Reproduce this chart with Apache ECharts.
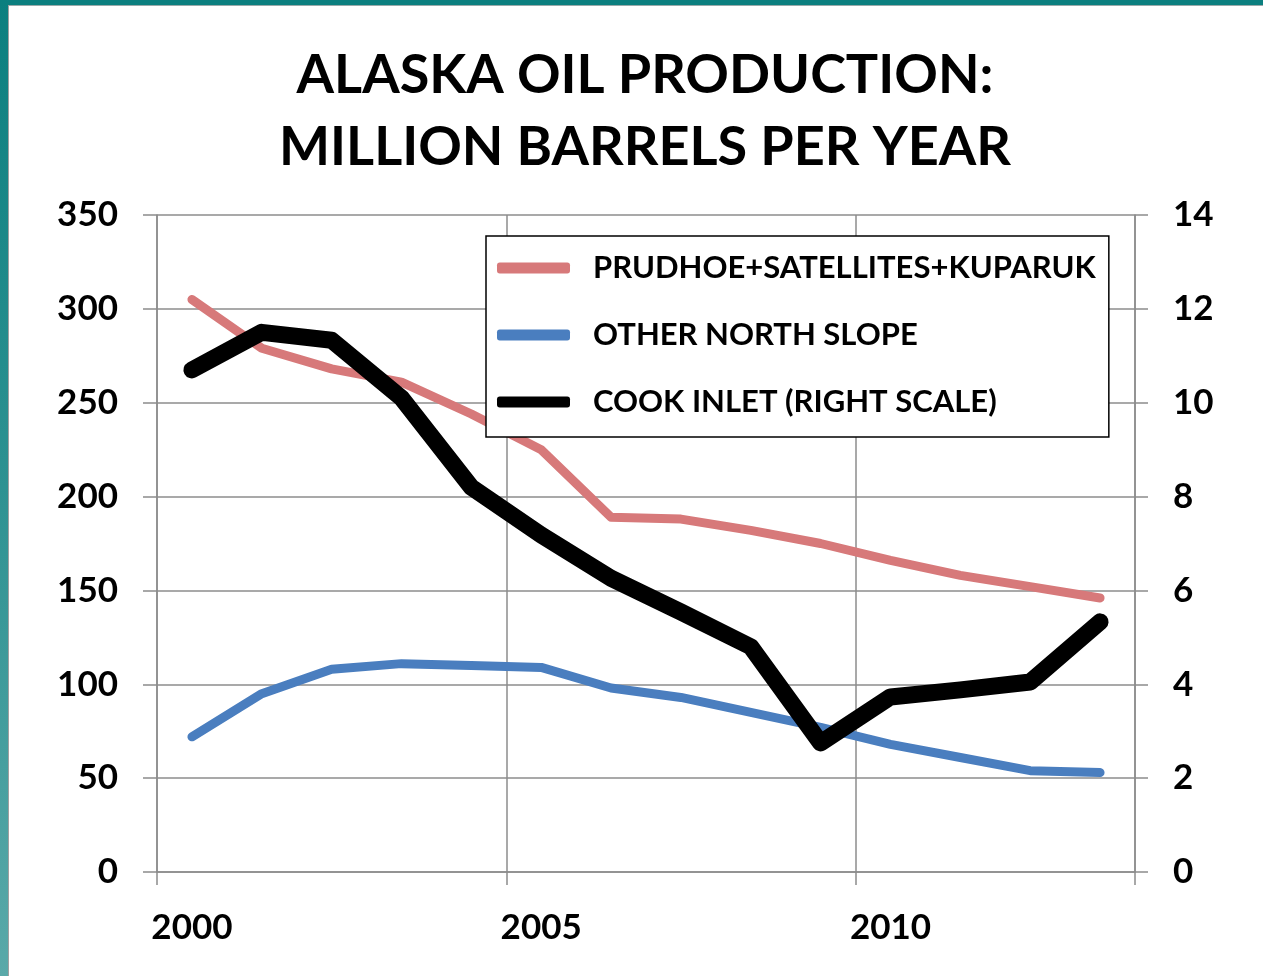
<!DOCTYPE html>
<html>
<head>
<meta charset="utf-8">
<script src="https://cdn.jsdelivr.net/npm/echarts@6/dist/echarts.min.js"></script>
<style>
  html, body { margin: 0; padding: 0; background: #ffffff; }
  #wrap { position: relative; width: 1263px; height: 976px; overflow: hidden; }
  #chart { position: absolute; left: 0; top: 0; width: 1263px; height: 976px; }
  #bTop { position: absolute; left: 0; top: 0; width: 1263px; height: 5px; background: #0b7f7f; }
  #bTopLine { position: absolute; left: 9px; top: 5px; width: 1254px; height: 1px; background: #9aa; }
  #bLeft { position: absolute; left: 0; top: 0; width: 8px; height: 976px; background: linear-gradient(#0b7f7f, #2e9292 50%, #5aa9a9); }
  #bLeftLine { position: absolute; left: 8px; top: 5px; width: 1px; height: 971px; background: #a0a0a0; }
</style>
</head>
<body>
<div id="wrap">
  <div id="chart"></div>
  <div id="bTop"></div>
  <div id="bTopLine"></div>
  <div id="bLeft"></div>
  <div id="bLeftLine"></div>
</div>
<script>
const years = ['2000','2001','2002','2003','2004','2005','2006','2007','2008','2009','2010','2011','2012','2013'];
const prudhoe = [305, 279, 268, 261, 244, 225, 189, 188, 182, 175, 166, 158, 152, 146];
const otherNorthSlope = [72, 95, 108, 111, 110, 109, 98, 93, 85, 77, 68, 61, 54, 53];
const cookInlet = [10.7, 11.5, 11.33, 10.1, 8.2, 7.18, 6.26, 5.54, 4.8, 2.75, 3.73, 3.88, 4.05, 5.33];
const leftTicks = [0, 50, 100, 150, 200, 250, 300, 350];
const rightTicks = [0, 2, 4, 6, 8, 10, 12, 14];
const seriesNames = ['PRUDHOE+SATELLITES+KUPARUK', 'OTHER NORTH SLOPE', 'COOK INLET (RIGHT SCALE)'];
const titleLines = ['ALASKA OIL PRODUCTION:', 'MILLION BARRELS PER YEAR'];

const FONT = 'Lato, "Open Sans", sans-serif';
const gridColor = '#8c8c8c';
const labelStyle = { color: '#000', fontFamily: FONT, fontWeight: 'bold', fontSize: 35 };

const chart = echarts.init(document.getElementById('chart'), null, { renderer: 'canvas' });
chart.setOption({
  backgroundColor: '#ffffff',
  animation: false,
  graphic: [
    { type: 'text', x: 645, y: 76, style: { text: titleLines[0], fill: '#000', font: 'bold 54px ' + FONT, textAlign: 'center', textVerticalAlign: 'middle' } },
    { type: 'text', x: 645, y: 148, style: { text: titleLines[1], fill: '#000', font: 'bold 54px ' + FONT, textAlign: 'center', textVerticalAlign: 'middle' } }
  ],
  grid: { left: 157, right: 128, top: 215, bottom: 104, containLabel: false },
  legend: {
    orient: 'vertical',
    left: 486, top: 236,
    padding: [14, 13, 17, 11],
    itemGap: 31,
    itemWidth: 73, itemHeight: 11,
    borderColor: '#000', borderWidth: 1.5,
    backgroundColor: '#fff',
    textStyle: { color: '#000', fontFamily: FONT, fontWeight: 'bold', fontSize: 31, lineHeight: 36, padding: [0, 0, 0, 18] },
    data: seriesNames.map(n => ({ name: n, icon: 'roundRect' }))
  },
  xAxis: {
    type: 'category',
    data: years,
    boundaryGap: true,
    axisLine: { show: true, lineStyle: { color: gridColor, width: 1.5 } },
    axisTick: { show: true, interval: 4, length: 13, lineStyle: { color: gridColor, width: 1.5 } },
    axisLabel: Object.assign({ interval: 4, margin: 38 }, labelStyle),
    splitLine: { show: true, interval: 4, lineStyle: { color: gridColor, width: 1.5 } }
  },
  yAxis: [
    {
      type: 'value', min: leftTicks[0], max: leftTicks[leftTicks.length - 1], interval: 50,
      position: 'left',
      axisLine: { show: true, lineStyle: { color: gridColor, width: 1.5 } },
      axisTick: { show: true, length: 14, lineStyle: { color: gridColor, width: 1.5 } },
      axisLabel: Object.assign({ margin: 39 }, labelStyle),
      splitLine: { show: true, lineStyle: { color: gridColor, width: 1.5 } }
    },
    {
      type: 'value', min: rightTicks[0], max: rightTicks[rightTicks.length - 1], interval: 2,
      position: 'right',
      axisLine: { show: true, lineStyle: { color: gridColor, width: 1.5 } },
      axisTick: { show: true, length: 13, lineStyle: { color: gridColor, width: 1.5 } },
      axisLabel: Object.assign({ margin: 38 }, labelStyle),
      splitLine: { show: false }
    }
  ],
  series: [
    {
      name: seriesNames[0], type: 'line', data: prudhoe, yAxisIndex: 0,
      symbol: 'none', color: '#d7797a',
      lineStyle: { width: 9, color: '#d7797a', cap: 'round', join: 'round' }
    },
    {
      name: seriesNames[1], type: 'line', data: otherNorthSlope, yAxisIndex: 0,
      symbol: 'none', color: '#4a7ebf',
      lineStyle: { width: 9, color: '#4a7ebf', cap: 'round', join: 'round' }
    },
    {
      name: seriesNames[2], type: 'line', data: cookInlet, yAxisIndex: 1,
      symbol: 'none', color: '#000000',
      lineStyle: { width: 17, color: '#000000', cap: 'round', join: 'round' }
    }
  ]
});
</script>
</body>
</html>
